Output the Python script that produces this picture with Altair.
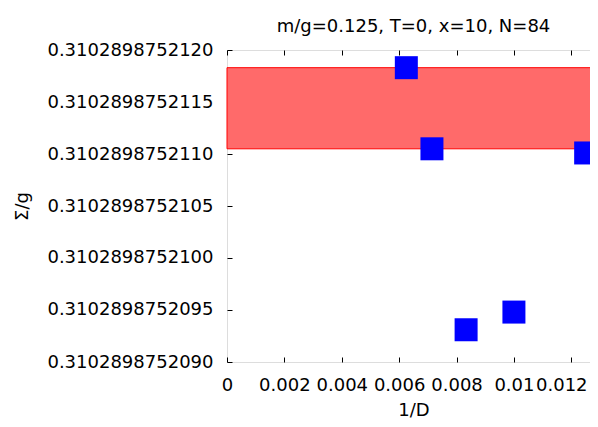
import altair as alt
import pandas as pd

# data
inv_D = [0.00625, 0.0071429, 0.0083333, 0.01, 0.0125]
sigma_g = [0.31028987521183, 0.31028987521105, 0.31028987520931,
           0.31028987520948, 0.31028987521101]

band_x = [0.0, 0.013]
band_lo = 0.31028987521105
band_hi = 0.31028987521183

x_ticks = [0, 0.002, 0.004, 0.006, 0.008, 0.01, 0.012]
y_ticks = [0.3102898752090, 0.3102898752095, 0.3102898752100,
           0.3102898752105, 0.3102898752110, 0.3102898752115,
           0.3102898752120]
x_domain = [0, 0.013]
y_domain = [0.3102898752090, 0.3102898752120]

title_text = "m/g=0.125, T=0, x=10, N=84"
FONT = "DejaVu Sans"
FS = 18

pts = pd.DataFrame({"x": inv_D, "y": sigma_g})
band = pd.DataFrame({"x0": [band_x[0]], "x1": [band_x[1]],
                     "lo": [band_lo], "hi": [band_hi]})

xscale = alt.Scale(domain=x_domain, nice=False, zero=False)
yscale = alt.Scale(domain=y_domain, nice=False, zero=False)

common = dict(domain=False, grid=False, tickColor="black", tickWidth=1,
              tickSize=5, offset=-5, labelFont=FONT, labelFontSize=FS,
              labelColor="black", titleFont=FONT, titleFontSize=FS,
              titleFontWeight="normal", titleColor="black")

bottom_axis = alt.Axis(values=x_ticks, format="~g", labelPadding=14,
                       titlePadding=7, labelOverlap=False, labelFlush=False,
                       labelOffset={"expr": "datum.value > 0.011 ? -10 : 0"},
                       **common)
left_axis = alt.Axis(values=y_ticks, format=".13f", labelPadding=14,
                     titlePadding=15, labelOverlap=False, **common)
top_axis = alt.Axis(values=x_ticks, labels=False, orient="top", **common)
right_axis = alt.Axis(values=y_ticks, labels=False, orient="right", **common)

band_layer = alt.Chart(band).mark_rect(
    fill="#ff6a6a", stroke="#ff0000", strokeWidth=1
).encode(
    x=alt.X("x0:Q", scale=xscale, axis=bottom_axis, title="1/D"),
    x2="x1:Q",
    y=alt.Y("lo:Q", scale=yscale, axis=left_axis, title="Σ/g"),
    y2="hi:Q",
)

pt_layer = alt.Chart(pts).mark_square(
    size=529, color="#0000ff", opacity=1, strokeWidth=0
).encode(
    x=alt.X("x:Q", scale=xscale, axis=top_axis, title=None),
    y=alt.Y("y:Q", scale=yscale, axis=right_axis, title=None),
)

chart = alt.layer(band_layer, pt_layer).resolve_axis(
    x="independent", y="independent"
).properties(
    width=373,
    height=312,
    autosize=alt.AutoSizeParams(type="none"),
    padding={"left": 219, "top": 42, "right": -10, "bottom": 57},
    title=alt.TitleParams(title_text, font=FONT, fontSize=FS,
                          fontWeight="normal", color="black",
                          anchor="middle", frame="group",
                          baseline="alphabetic", offset=19, dy=28),
).configure_view(
    stroke="black", strokeWidth=1, fill="white"
).configure(background="white")

chart.save("out.html", embed_options={"renderer": "svg", "actions": False})
